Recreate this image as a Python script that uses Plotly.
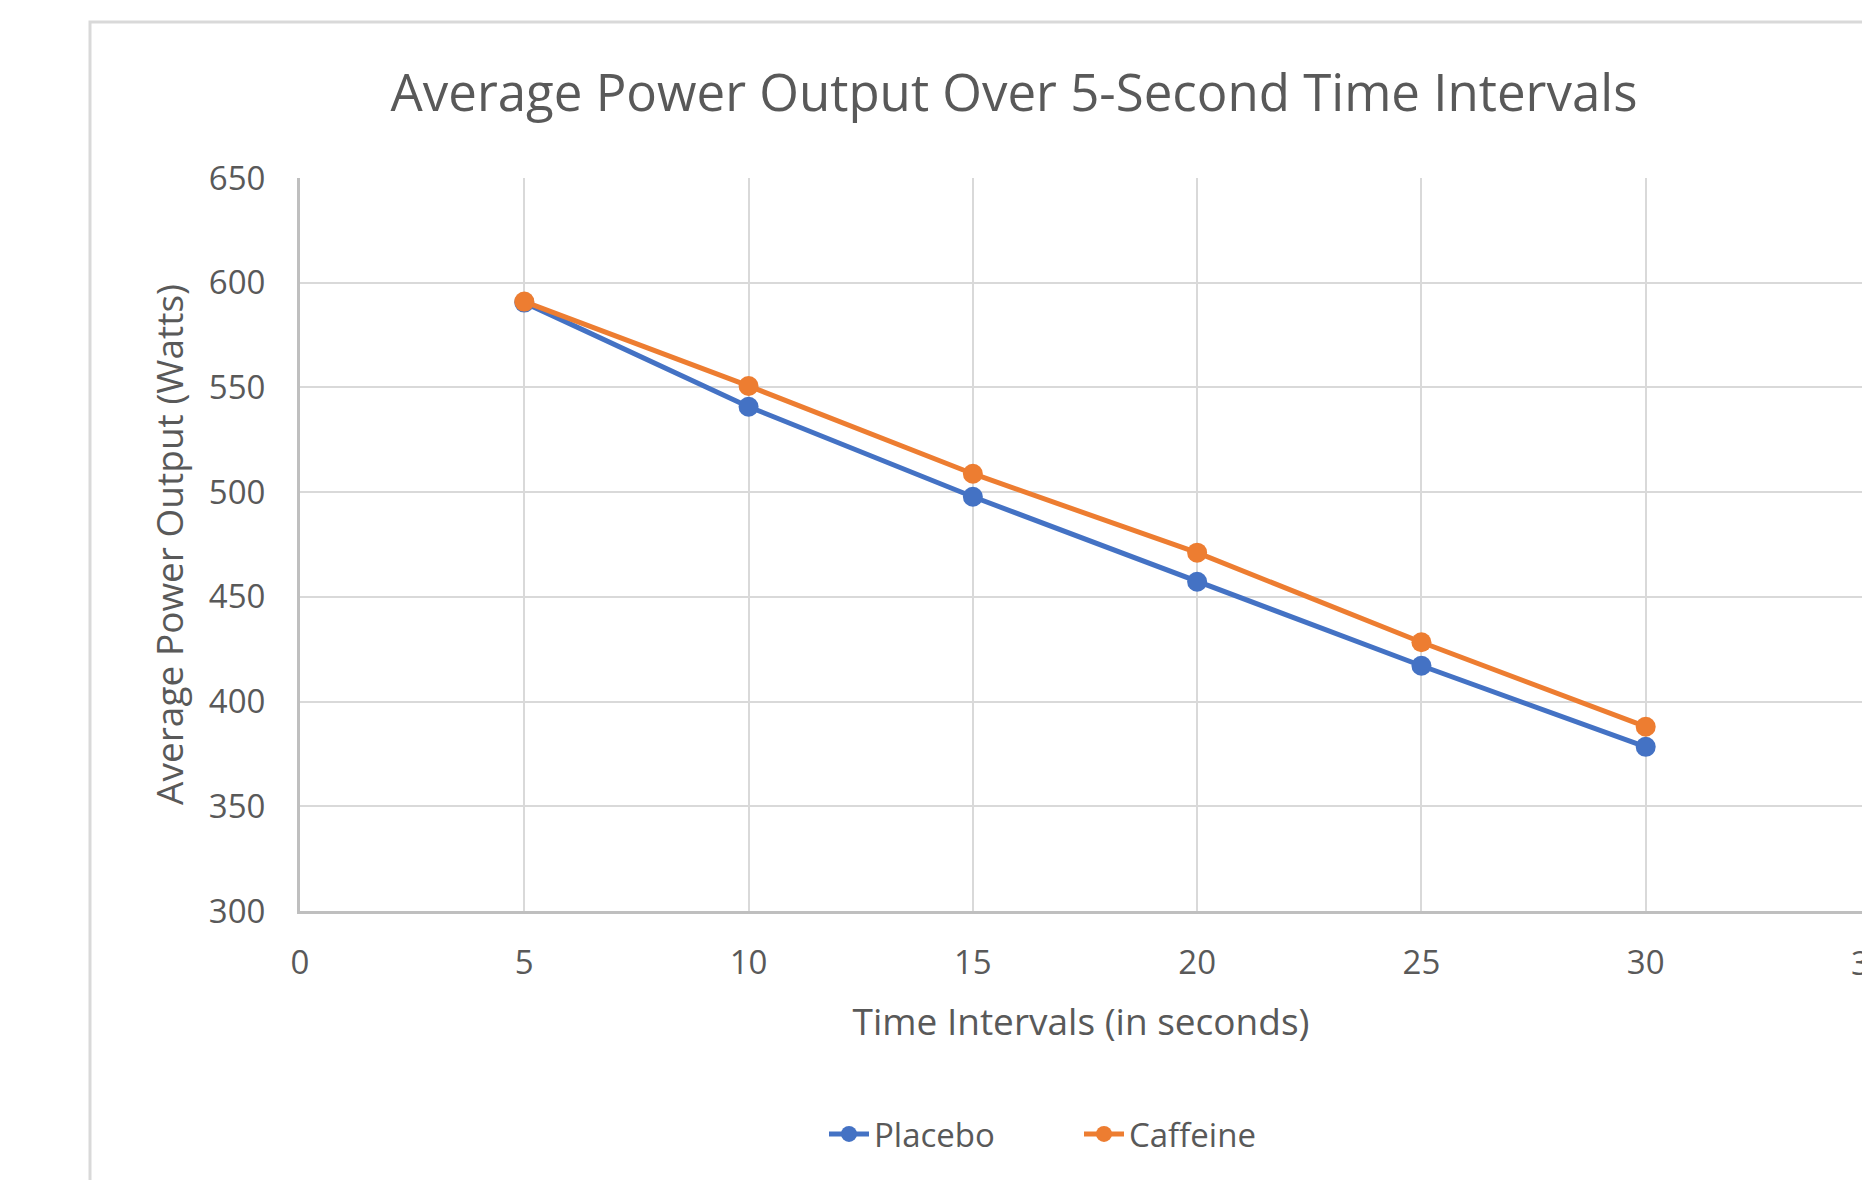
import plotly.graph_objects as go

# Data
time_s = [5, 10, 15, 20, 25, 30]
placebo = [590.5, 540.8, 497.8, 457.2, 417.1, 378.4]
caffeine = [591.0, 550.7, 508.8, 471.1, 428.3, 388.0]
series_names = ["Placebo", "Caffeine"]
colors = ["#4472C4", "#ED7D31"]
y_ticks = [300, 350, 400, 450, 500, 550, 600, 650]
x_ticks = [0, 5, 10, 15, 20, 25, 30, 35]

FONT = "Open Sans"
TXT = "#595959"

W, H = 1862, 1180
L, T, B, R = 300, 178, 269, 0
pw = W - L - R
ph = H - T - B
x_max = 35 * pw / 1570.0

fig = go.Figure()
for name, vals, c in zip(series_names, [placebo, caffeine], colors):
    fig.add_trace(go.Scatter(
        x=time_s, y=vals, name=name, mode="lines+markers",
        line=dict(color=c, width=5),
        marker=dict(color=c, size=20),
    ))

def px_to_paper_x(px):
    return (px - L) / pw

def px_to_paper_y(py):
    return (H - B - py) / ph

fig.update_layout(
    width=W, height=H,
    margin=dict(l=L, r=R, t=T, b=B, pad=0),
    paper_bgcolor="white", plot_bgcolor="white",
    font=dict(family=FONT, color=TXT, size=33),
    title=dict(text="Average Power Output Over 5-Second Time Intervals",
               x=px_to_paper_x(1014), xref="paper", xanchor="center",
               y=1 - 93 / H, yanchor="middle",
               font=dict(size=51, color=TXT, family=FONT)),
    showlegend=True,
    legend=dict(orientation="h", x=px_to_paper_x(1079), xanchor="center",
                y=px_to_paper_y(1134), yanchor="middle",
                font=dict(size=33, color=TXT, family=FONT),
                entrywidth=200, entrywidthmode="pixels",
                itemwidth=40, bgcolor="rgba(0,0,0,0)"),
    shapes=[dict(type="rect", xref="paper", yref="paper",
                 x0=px_to_paper_x(90), x1=px_to_paper_x(1950),
                 y0=px_to_paper_y(1250), y1=px_to_paper_y(22),
                 line=dict(color="#D9D9D9", width=3), fillcolor="rgba(0,0,0,0)",
                 layer="below")],
)

fig.update_xaxes(range=[0, x_max], tickvals=x_ticks, ticktext=[str(v) for v in x_ticks],
                 showgrid=True, gridcolor="#D9D9D9", gridwidth=2,
                 zeroline=False, showline=True, linecolor="#BFBFBF", linewidth=3,
                 ticks="", ticklabelstandoff=20,
                 tickfont=dict(size=33, color=TXT, family=FONT),
                 title=dict(text="Time Intervals (in seconds)", standoff=27,
                            font=dict(size=37, color=TXT, family=FONT)))
fig.update_yaxes(range=[300, 650], tickvals=y_ticks,
                 showgrid=True, gridcolor="#D9D9D9", gridwidth=2,
                 zeroline=False, showline=True, linecolor="#BFBFBF", linewidth=3,
                 ticks="", ticklabelstandoff=25,
                 tickfont=dict(size=33, color=TXT, family=FONT),
                 title=dict(text="Average Power Output (Watts)", standoff=14,
                            font=dict(size=37, color=TXT, family=FONT)))

# Partially visible "35" tick label at the right edge, as in the reference
fig.add_annotation(x=px_to_paper_x(300 + 35 * 1570.0 / 35), y=0, xref="paper", yref="paper",
                   text="35", showarrow=False, xanchor="center", yanchor="middle",
                   yshift=-51, font=dict(size=33, color=TXT, family=FONT))

fig.write_html("out.html")
